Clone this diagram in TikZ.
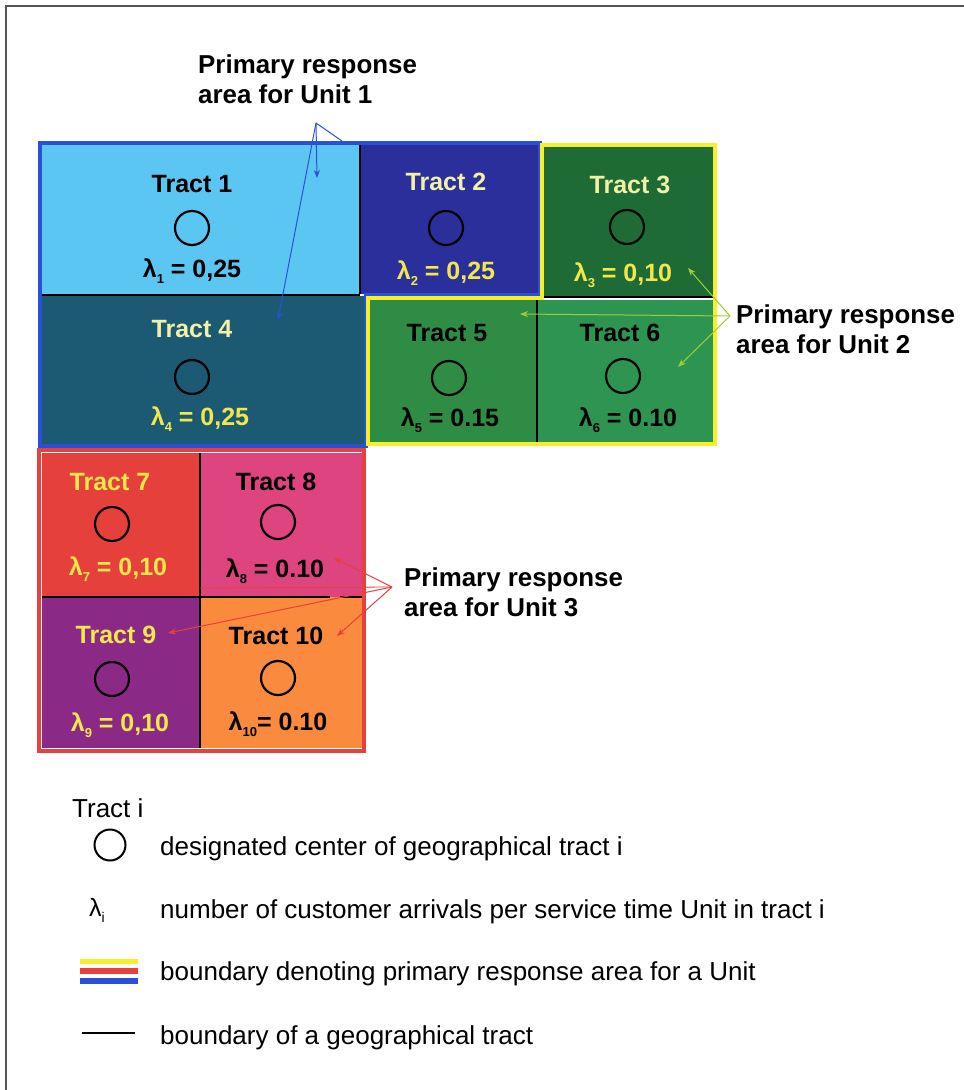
\documentclass[tikz,border=0pt]{standalone}
\usepackage{fontspec}
\setmainfont{Liberation Sans}
\usetikzlibrary{arrows.meta}
\definecolor{cT1}{HTML}{5CC6F2}
\definecolor{cT2}{HTML}{2A2F9C}
\definecolor{cT3}{HTML}{1F6B35}
\definecolor{cT4}{HTML}{1B5A72}
\definecolor{cT5}{HTML}{2F8C44}
\definecolor{cT6}{HTML}{2E9452}
\definecolor{cT7}{HTML}{E5403C}
\definecolor{cT8}{HTML}{DE4480}
\definecolor{cT9}{HTML}{8B2A86}
\definecolor{cT10}{HTML}{F98A3E}
\definecolor{uBlue}{HTML}{2B50D8}
\definecolor{uYellow}{HTML}{F5F02A}
\definecolor{uRed}{HTML}{E8403A}
\definecolor{uGreen}{HTML}{A2CC3A}
\definecolor{ltYel}{HTML}{F3F0A8}
\definecolor{yel}{HTML}{F2E84A}
\definecolor{frameGray}{HTML}{555555}
\newcommand\lsub[1]{λ\raisebox{-0.25em}{\fontsize{13}{13}\selectfont #1}}
\begin{document}
\begin{tikzpicture}[x=1pt,y=-1pt,
  ttl/.style={font=\fontsize{25}{25}\selectfont\bfseries, anchor=base, inner sep=0pt},
  lam/.style={font=\fontsize{25}{25}\selectfont\bfseries, anchor=base, inner sep=0pt},
  ctr/.style={draw=black, line width=2.2pt, circle, minimum size=34pt, inner sep=0pt},
  lbl/.style={font=\fontsize{25.9}{30}\selectfont\bfseries, align=left, anchor=north west, inner sep=0pt},
  leg/.style={font=\fontsize{26}{26}\selectfont, anchor=base west, inner sep=0pt},
  tb/.style={draw=black, line width=2.5pt},
  ub/.style={line width=4pt, line join=miter},
  con/.style={line width=1pt, -{Stealth[length=8pt,width=6pt]}},
  conplain/.style={line width=1pt}
]
\useasboundingbox (0,0) rectangle (964,1090);
\fill[white] (0,0) rectangle (964,1090);
% frame
\draw[frameGray, line width=2pt] (6,1090) -- (6,6) -- (964,6);

% tract fills
\fill[cT1] (42,145) rectangle (360,294);
\fill[cT2] (360,145) rectangle (540,294);
\fill[cT3] (544,147) rectangle (713,296);
\fill[cT4] (42,296) rectangle (366,444);
\fill[cT5] (370,300) rectangle (537,442);
\fill[cT6] (537,300) rectangle (713,442);
\fill[cT7] (42,453) rectangle (200,597);
\fill[cT8] (200,453) rectangle (362,597);
\fill[cT9] (42,597) rectangle (200,748);
\fill[cT10] (200,597) rectangle (362,748);

% tract boundaries
\draw[tb] (360,145) -- (360,294);
\draw[tb] (42,295) -- (360,295);
\draw[tb] (544,297) -- (713,297);
\draw[tb] (537,300) -- (537,442);
\draw[tb] (200,453) -- (200,748);
\draw[tb] (42,597) -- (330,597);
\draw[tb] (340,597) -- (362,597);

% unit boundaries
\draw[ub, uBlue] (40,143) -- (540,143) -- (540,295) -- (366,295) -- (366,446) -- (40,446) -- cycle;
\draw[ub, uYellow] (542,145) -- (715,145) -- (715,444) -- (368,444) -- (368,298) -- (542,298) -- cycle;
\draw[ub, uRed] (39,450) rectangle (364,751);

% tract contents
\node[ttl] (n1) at (192,192) {Tract 1};
\node[ctr] (c1) at (192,228) {};
\node[lam] (l1) at (192,277) {\lsub{1} = 0,25};

\node[ttl, text=ltYel] (n2) at (446,190) {Tract 2};
\node[ctr] (c2) at (446,228) {};
\node[lam, text=yel] (l2) at (446,279) {\lsub{2} = 0,25};

\node[ttl, text=ltYel] (n3) at (630,193) {Tract 3};
\node[ctr] (c3) at (627,227) {};
\node[lam, text=yel] (l3) at (623,281) {\lsub{3} = 0,10};

\node[ttl, text=ltYel] (n4) at (192,337) {Tract 4};
\node[ctr] (c4) at (192,377) {};
\node[lam, text=yel] (l4) at (200,425) {\lsub{4} = 0,25};

\node[ttl] (n5) at (447,341) {Tract 5};
\node[ctr] (c5) at (449,378) {};
\node[lam] (l5) at (450,426) {\lsub{5} = 0.15};

\node[ttl] (n6) at (620,341) {Tract 6};
\node[ctr] (c6) at (623,376) {};
\node[lam] (l6) at (628,426) {\lsub{6} = 0.10};

\node[ttl, text=yel] (n7) at (110,490) {Tract 7};
\node[ctr] (c7) at (112,524) {};
\node[lam, text=yel] (l7) at (118,575) {\lsub{7} = 0,10};

\node[ttl] (n8) at (276,490) {Tract 8};
\node[ctr] (c8) at (278,522) {};
\node[lam] (l8) at (275,577) {\lsub{8} = 0.10};

\node[ttl, text=yel] (n9) at (116,643) {Tract 9};
\node[ctr] (c9) at (112,679) {};
\node[lam, text=yel] (l9) at (120,731) {\lsub{9} = 0,10};

\node[ttl] (n10) at (276,644) {Tract 10};
\node[ctr] (c10) at (278,678) {};
\node[lam] (l10) at (278,730) {\lsub{10}= 0.10};

% labels
\node[lbl] (u1) at (198,55) {Primary response\\area for Unit 1};
\node[lbl] (u2) at (736,305) {Primary response\\area for Unit 2};
\node[lbl] (u3) at (404,568) {Primary response\\area for Unit 3};

% connectors unit 1
\coordinate (o1) at (316,123);
\coordinate (a1) at (342,141);
\coordinate (b1) at (317,178);
\coordinate (d1) at (278,320);
\draw[conplain, uBlue] (o1) -- (a1);
\draw[con, uBlue] (o1) -- (b1);
\draw[con, uBlue] (o1) -- (d1);

% connectors unit 2
\coordinate (o2) at (730,316);
\coordinate (a2) at (688,268);
\coordinate (b2) at (520,314);
\coordinate (d2) at (678,367);
\draw[con, uGreen] (o2) -- (a2);
\draw[con, uGreen] (o2) -- (b2);
\draw[con, uGreen] (o2) -- (d2);

% connectors unit 3
\coordinate (o3) at (392,587);
\coordinate (a3) at (334,558);
\coordinate (b3) at (168,633);
\coordinate (d3) at (337,636);
\coordinate (e3) at (200,588);
\draw[con, uRed] (o3) -- (a3);
\draw[con, uRed] (o3) -- (b3);
\draw[con, uRed] (o3) -- (d3);
\draw[conplain, uRed, line width=0.8pt] (o3) -- (e3);

% legend
\node[leg] (lt) at (72,817) {Tract i};
\node[draw=black, line width=2pt, circle, minimum size=31pt, inner sep=0pt] (lc) at (110,845) {};
\node[leg] (ld1) at (160,855) {designated center of geographical tract i};
\node[font=\fontsize{25}{25}\selectfont, anchor=base, inner sep=0pt] (ll) at (97,916) {λ\raisebox{-0.25em}{\fontsize{14}{14}\selectfont i}};
\node[leg] (ld2) at (160,918) {number of customer arrivals per service time Unit in tract i};
\fill[uYellow] (80,959) rectangle (138,964);
\fill[uRed] (80,968) rectangle (138,974);
\fill[uBlue] (80,978) rectangle (138,984);
\node[leg] (ld3) at (160,980) {boundary denoting primary response area for a Unit};
\draw[black, line width=2pt] (82,1033) -- (135,1033);
\node[leg] (ld4) at (160,1044) {boundary of a geographical tract};
\end{tikzpicture}
\end{document}
